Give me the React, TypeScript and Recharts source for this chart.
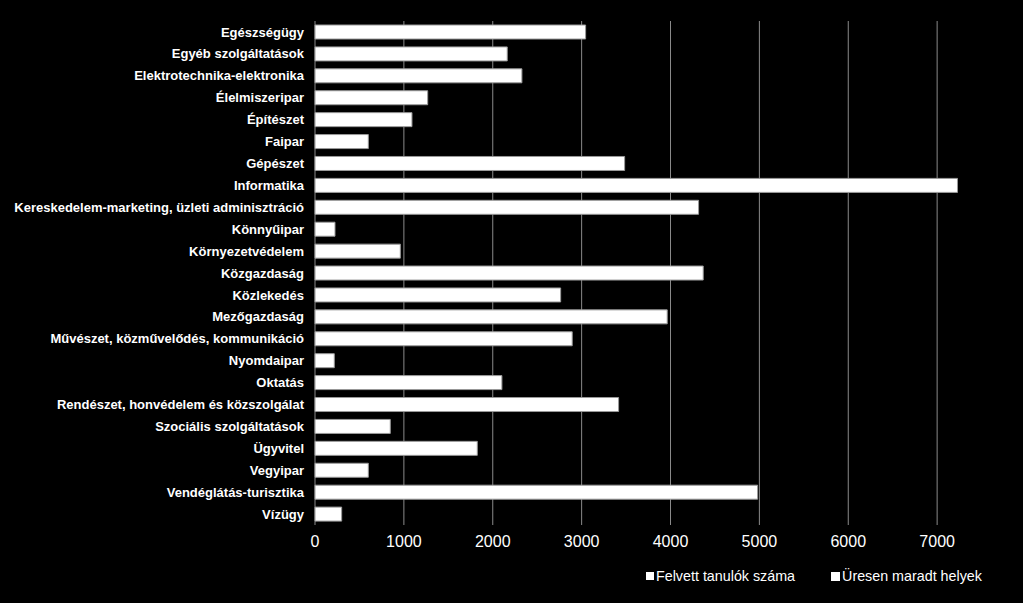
import React from 'react';
import { BarChart, Bar, XAxis, YAxis, CartesianGrid, Legend } from 'recharts';

const categories = [
    'Egészségügy',
    'Egyéb szolgáltatások',
    'Elektrotechnika-elektronika',
    'Élelmiszeripar',
    'Építészet',
    'Faipar',
    'Gépészet',
    'Informatika',
    'Kereskedelem-marketing, üzleti adminisztráció',
    'Könnyűipar',
    'Környezetvédelem',
    'Közgazdaság',
    'Közlekedés',
    'Mezőgazdaság',
    'Művészet, közművelődés, kommunikáció',
    'Nyomdaipar',
    'Oktatás',
    'Rendészet, honvédelem és közszolgálat',
    'Szociális szolgáltatások',
    'Ügyvitel',
    'Vegyipar',
    'Vendéglátás-turisztika',
    'Vízügy',
];

const felvett = [
    3045, 2163, 2328, 1268, 1091, 600, 3484, 7229, 4316, 225, 960, 4368,
    2764, 3963, 2894, 217, 2103, 3416, 847, 1826, 600, 4980, 300,
];

const xTicks = [0, 1000, 2000, 3000, 4000, 5000, 6000, 7000];

const legendNames = ['Felvett tanulók száma', 'Üresen maradt helyek'];

const data = categories.map((name, i) => ({ name, felvett: felvett[i] }));

const font = '"Liberation Sans", Arial, sans-serif';

const renderLegend = () => (
    <div style={{ display: 'flex', fontFamily: font, fontSize: 14.3, color: '#fff' }}>
        {legendNames.map((n, i) => (
            <div key={n} style={{ display: 'flex', alignItems: 'center', marginRight: i === 0 ? 36 : 0 }}>
                <span style={{ display: 'inline-block', width: i === 0 ? 8 : 9, height: i === 0 ? 8 : 9, background: '#fff', marginRight: 2 }} />
                <span>{n}</span>
            </div>
        ))}
    </div>
);

export default function App() {
    return (
        <div style={{ position: 'fixed', left: 0, top: 0, width: 1023, height: 603, overflow: 'hidden', background: '#000' }}>
            <BarChart
                width={1026}
                height={603}
                data={data}
                layout="vertical"
                margin={{ top: 21, right: 0, left: 0, bottom: 0 }}
                style={{ background: '#000' }}
            >
                <CartesianGrid horizontal={false} stroke="#8a8a8a" strokeWidth={1} />
                <XAxis
                    type="number"
                    domain={[0, 8000]}
                    ticks={xTicks}
                    axisLine={false}
                    tickLine={false}
                    tickSize={0}
                    tickMargin={11}
                    height={78}
                    tick={{ fill: '#fff', fontSize: 16, fontFamily: font }}
                />
                <YAxis
                    type="category"
                    dataKey="name"
                    width={315}
                    axisLine={false}
                    tickLine={false}
                    tickSize={0}
                    tickMargin={11}
                    interval={0}
                    tick={{ fill: '#fff', fontSize: 13, fontWeight: 'bold', fontFamily: font }}
                />
                <Legend
                    layout="horizontal"
                    verticalAlign="middle"
                    align="center"
                    content={renderLegend}
                    wrapperStyle={{ top: 568, left: 646, width: 360 }}
                />
                <Bar
                    dataKey="felvett"
                    name={legendNames[0]}
                    fill="#ffffff"
                    stroke="#9a9a9a"
                    strokeWidth={1}
                    barSize={14}
                    isAnimationActive={false}
                />
            </BarChart>
        </div>
    );
}
